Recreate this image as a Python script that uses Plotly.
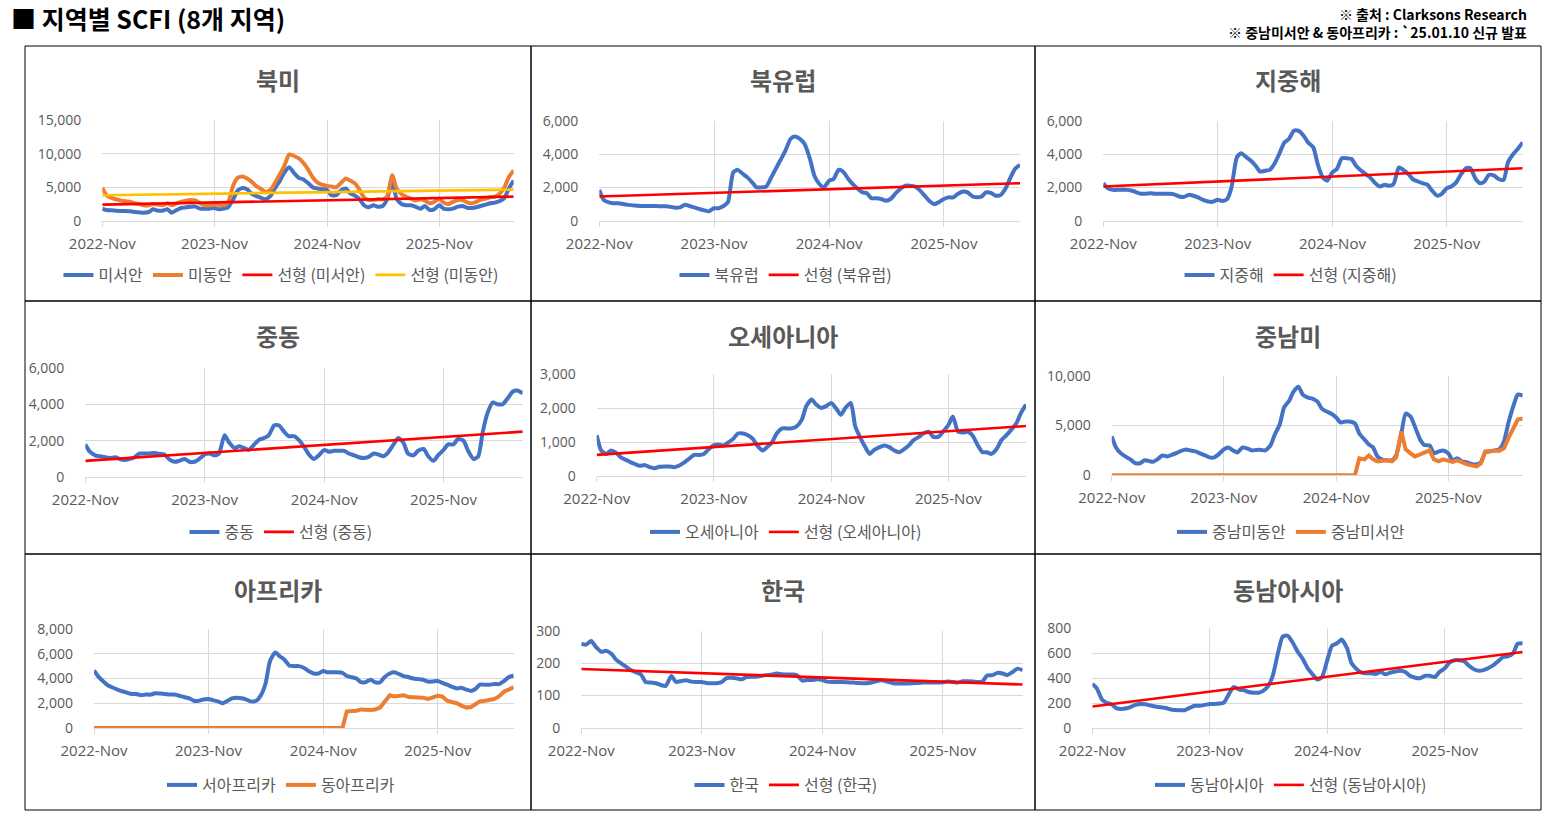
import pandas as pd
import plotly.graph_objects as go

W, H = 1558, 820

# ---------------- data ----------------
dates = pd.date_range("2022-11-01", "2026-07-01", freq="SMS")  # semi-monthly, 89 points
tick_vals = ["2022-11-01", "2023-11-01", "2024-11-01", "2025-11-01"]
tick_text = ["2022-Nov", "2023-Nov", "2024-Nov", "2025-Nov"]

na_west = [1800,1600,1550,1500,1450,1450,1400,1300,1250,1200,
           1300,1700,1500,1500,1700,1200,1600,1900,2000,2100,
           2100,1800,1800,1800,1900,1700,1800,2000,3200,4500,
           4900,4700,4000,3700,3400,3200,3700,4800,6000,7200,
           8000,7200,6400,6200,5600,5000,4800,4700,4600,3800,
           3800,4500,4800,4100,3700,3200,2300,2000,2300,2100,
           2200,3200,5800,3300,2500,2300,2300,2100,1800,2200,
           1600,1700,2300,1800,1700,1800,2100,2200,1900,1900,
           2000,2200,2400,2600,2700,2900,3400,4800,6000]
na_east = [4900,3800,3400,3200,3000,2900,2800,2600,2500,2300,
           2300,2500,2400,2300,2600,2300,2600,2800,3000,3100,
           3000,2600,2300,2300,2400,2400,2300,2700,5300,6400,
           6600,6300,5800,5200,4700,4300,4600,5600,7000,8200,
           9900,9700,9300,8700,7600,6500,5700,5400,5200,5100,
           5000,5600,6300,6000,5500,4600,3500,3100,3100,3200,
           3200,3600,6800,4800,4000,3600,3300,3000,3200,3000,
           2600,2800,3300,2700,2500,2800,3100,3100,2700,2600,
           2800,3100,3300,3500,3600,4000,5000,6500,7500]
north_europe = [1850,1250,1100,1050,1050,1000,950,920,900,880,
                880,880,880,870,860,830,780,800,960,880,
                780,700,620,560,750,750,880,1100,2900,3050,
                2800,2600,2300,2000,2000,2050,2600,3100,3700,4200,
                4900,5050,4900,4600,3700,2700,2200,2000,2400,2500,
                3050,2950,2500,2200,1900,1700,1650,1350,1350,1300,
                1200,1300,1650,1900,2100,2100,2050,1850,1500,1200,
                1000,1100,1300,1400,1400,1600,1750,1700,1450,1400,
                1450,1700,1650,1500,1550,1900,2600,3100,3350]
mediterranean = [2250,1950,1850,1850,1850,1850,1800,1700,1620,1620,
                 1650,1620,1620,1620,1620,1580,1450,1420,1550,1500,
                 1380,1250,1150,1130,1250,1180,1300,2000,3800,4050,
                 3800,3600,3300,2950,3000,3050,3450,4000,4700,4900,
                 5400,5400,5100,4700,4400,3400,2600,2400,2900,3100,
                 3750,3750,3700,3300,3000,2800,2600,2300,2050,2150,
                 2100,2200,3200,3050,2800,2500,2350,2250,2150,1800,
                 1500,1600,1950,2050,2300,2750,3150,3150,2500,2250,
                 2350,2750,2700,2500,2450,3500,4000,4300,4700]
middle_east = [1800,1400,1200,1150,1100,1050,1100,1000,950,1000,
               1100,1300,1300,1300,1330,1280,1250,1000,850,900,
               1000,850,850,1000,1250,1300,1200,1300,2300,1900,
               1600,1700,1600,1500,1800,2050,2150,2300,2850,2850,
               2500,2250,2250,2050,1650,1250,1000,1200,1500,1400,
               1450,1450,1450,1300,1200,1100,1050,1100,1300,1250,
               1150,1350,1800,2150,1900,1300,1200,1450,1550,1150,
               900,1200,1500,1800,1800,2100,2000,1450,1000,1150,
               2500,3500,4100,4000,4000,4300,4700,4750,4600]
oceania = [1200,750,650,750,680,550,470,400,350,300,
           320,260,230,270,280,280,260,300,400,500,
           620,620,650,780,900,930,900,980,1100,1250,
           1250,1200,1100,900,750,850,1000,1250,1400,1400,
           1400,1450,1650,2050,2250,2100,2000,2050,2150,2000,
           1800,2000,2150,1450,1100,850,650,770,850,900,
           850,760,700,780,900,1050,1150,1250,1300,1150,
           1150,1300,1500,1750,1300,1280,1300,1200,900,700,
           700,650,800,1050,1200,1350,1550,1850,2100]
latam_east = [3900,2800,2200,1900,1600,1250,1200,1500,1450,1350,
              1650,2000,1900,2050,2250,2450,2600,2500,2400,2200,
              2000,1800,1800,2100,2600,2800,2500,2300,2800,2700,
              2500,2550,2550,2500,3000,4100,5100,6800,7500,8400,
              8900,8100,7800,7700,7400,6700,6400,6200,5800,5300,
              5400,5400,5200,4200,3600,3100,2800,1900,1550,1500,
              1500,2000,4200,6200,5900,4900,3600,3050,3000,2200,
              2400,2500,2200,1500,1700,1400,1300,1150,1100,1300,
              2300,2400,2500,2600,3400,5200,7000,8100,8000]
latam_west = [0,0,0,0,0,0,0,0,0,0,
              0,0,0,0,0,0,0,0,0,0,
              0,0,0,0,0,0,0,0,0,0,
              0,0,0,0,0,0,0,0,0,0,
              0,0,0,0,0,0,0,0,0,0,
              0,0,0,1700,1600,2000,1600,1400,1500,1500,
              1400,1800,4400,2600,2200,1900,2100,2300,2500,1600,
              1400,1600,1500,1350,1500,1300,1100,1000,900,1200,
              2400,2400,2500,2450,2700,3700,4800,5600,5700]
west_africa = [4650,4150,3750,3450,3250,3100,2950,2850,2750,2750,
               2650,2700,2700,2800,2780,2750,2700,2700,2600,2500,
               2400,2200,2200,2300,2350,2250,2150,2000,2200,2400,
               2450,2400,2300,2150,2200,2600,3600,5400,6100,5800,
               5500,5050,5000,5000,4850,4600,4400,4400,4600,4500,
               4500,4500,4450,4200,4100,4000,3700,3700,3900,3700,
               3700,4100,4400,4500,4350,4200,4100,4000,3950,3900,
               3750,3750,3800,3650,3500,3350,3200,3250,3100,3000,
               3150,3500,3500,3500,3550,3550,3800,4100,4250]
east_africa = [0,0,0,0,0,0,0,0,0,0,
               0,0,0,0,0,0,0,0,0,0,
               0,0,0,0,0,0,0,0,0,0,
               0,0,0,0,0,0,0,0,0,0,
               0,0,0,0,0,0,0,0,0,0,
               0,0,0,1350,1350,1400,1500,1450,1450,1500,
               1650,2100,2650,2550,2600,2650,2500,2500,2500,2450,
               2350,2450,2600,2550,2200,2100,2000,1800,1650,1700,
               1950,2150,2200,2250,2350,2550,2950,3100,3300]
korea = [260,257,268,250,235,238,228,210,200,190,
         178,172,165,142,140,138,132,130,160,142,
         145,147,143,142,142,139,138,138,142,154,
         155,153,150,157,158,158,161,163,165,168,
         166,165,165,163,146,148,148,150,148,143,
         142,142,142,141,140,139,138,138,141,145,
         147,143,139,137,137,137,138,139,140,140,
         140,140,141,143,142,140,144,144,143,142,
         143,162,163,170,168,163,173,183,178]
southeast_asia = [355,320,230,205,190,160,155,160,172,188,
                  195,192,182,175,168,165,152,146,145,145,
                  165,180,180,186,195,195,198,205,280,330,
                  310,305,290,285,285,300,340,420,610,735,
                  740,690,610,560,480,435,390,410,550,660,
                  680,710,640,520,470,445,440,440,435,450,
                  432,445,455,460,450,420,405,400,420,420,
                  410,450,480,525,545,545,535,500,470,460,
                  465,480,505,535,570,575,600,675,680]

# linear trend lines (start value, end value)
trend_na_west = [2400, 3600]
trend_na_east = [3800, 4650]
trend_north_europe = [1450, 2250]
trend_mediterranean = [2050, 3150]
trend_middle_east = [900, 2500]
trend_oceania = [620, 1470]
trend_korea = [182, 134]
trend_southeast_asia = [175, 610]

# ---------------- styling ----------------
BLUE, ORANGE, RED, YELLOW = "#4472C4", "#ED7D31", "#FF0000", "#FFC000"
GRAY_TXT, GRID = "#595959", "#D9D9D9"
NUM_FONT = "Open Sans, Noto Sans CJK KR, sans-serif"
KR_FONT = "Noto Sans CJK KR, Open Sans, sans-serif"

def S(name, y, color, shape="spline"):
    return dict(name=name, y=y, color=color, width=4, trend=False, shape=shape)

def T(name, y, color):
    return dict(name=name, y=y, color=color, width=2.6, trend=True, shape="linear")

panels = [
    dict(title="북미", cell=(25, 46, 531, 301), plot=(102.3, 120.3, 513.7, 220.7), ymax=15000, dtick=5000,
         series=[S("미서안", na_west, BLUE), S("미동안", na_east, ORANGE),
                 T("선형 (미서안)", trend_na_west, RED), T("선형 (미동안)", trend_na_east, YELLOW)]),
    dict(title="북유럽", cell=(531, 46, 1035, 301), plot=(599.3, 120.7, 1020.0, 220.7), ymax=6000, dtick=2000,
         series=[S("북유럽", north_europe, BLUE), T("선형 (북유럽)", trend_north_europe, RED)]),
    dict(title="지중해", cell=(1035, 46, 1541, 301), plot=(1103.3, 120.7, 1522.7, 220.7), ymax=6000, dtick=2000,
         series=[S("지중해", mediterranean, BLUE), T("선형 (지중해)", trend_mediterranean, RED)]),
    dict(title="중동", cell=(25, 301, 531, 554), plot=(85.3, 367.7, 522.7, 477.3), ymax=6000, dtick=2000,
         series=[S("중동", middle_east, BLUE), T("선형 (중동)", trend_middle_east, RED)]),
    dict(title="오세아니아", cell=(531, 301, 1035, 554), plot=(596.7, 374.0, 1026.0, 476.0), ymax=3000, dtick=1000,
         series=[S("오세아니아", oceania, BLUE), T("선형 (오세아니아)", trend_oceania, RED)]),
    dict(title="중남미", cell=(1035, 301, 1541, 554), plot=(1111.7, 375.7, 1522.7, 475.3), ymax=10000, dtick=5000,
         series=[S("중남미동안", latam_east, BLUE), S("중남미서안", latam_west, ORANGE, "linear")]),
    dict(title="아프리카", cell=(25, 554, 531, 810), plot=(94.0, 629.0, 513.7, 728.0), ymax=8000, dtick=2000,
         series=[S("서아프리카", west_africa, BLUE), S("동아프리카", east_africa, ORANGE, "linear")]),
    dict(title="한국", cell=(531, 554, 1035, 810), plot=(581.3, 630.7, 1022.7, 728.0), ymax=300, dtick=100,
         series=[S("한국", korea, BLUE), T("선형 (한국)", trend_korea, RED)]),
    dict(title="동남아시아", cell=(1035, 554, 1541, 810), plot=(1092.3, 628.3, 1522.7, 728.3), ymax=800, dtick=200,
         series=[S("동남아시아", southeast_asia, BLUE), T("선형 (동남아시아)", trend_southeast_asia, RED)]),
]

def fx(p):
    return p / W

def fy(p):
    return 1 - p / H

fig = go.Figure()
layout = dict(template="none", width=W, height=H, margin=dict(l=0, r=0, t=0, b=0, pad=0, autoexpand=False),
              autosize=False, paper_bgcolor="white", plot_bgcolor="white", showlegend=True,
              font=dict(family=KR_FONT, color=GRAY_TXT))
shapes, annotations = [], []

for k, p in enumerate(panels, start=1):
    sfx = "" if k == 1 else str(k)
    x0, y0, x1, y1 = p["plot"]
    cx0, cy0, cx1, cy1 = p["cell"]
    ccx = (cx0 + cx1) / 2
    legname = "legend" + sfx
    for s in p["series"]:
        xs = [dates[0], dates[-1]] if s["trend"] else dates
        line = dict(color=s["color"], width=s["width"], shape=s["shape"])
        if s["shape"] == "spline":
            line["smoothing"] = 0.6
        fig.add_trace(go.Scatter(
            x=xs, y=s["y"], name=s["name"], mode="lines", line=line,
            xaxis="x" + sfx, yaxis="y" + sfx, legend=legname, hoverinfo="skip"))
    layout["xaxis" + sfx] = dict(
        domain=[fx(x0), fx(x1)], anchor="y" + sfx, type="date", automargin=False,
        range=[dates[0], dates[-1]], tickvals=tick_vals, ticktext=tick_text,
        showgrid=True, gridcolor=GRID, gridwidth=1, showline=True, linecolor=GRID, linewidth=1,
        ticks="outside", ticklen=5, tickcolor=GRID, tickwidth=1, ticklabelstandoff=4,
        tickfont=dict(family=NUM_FONT, size=15, color=GRAY_TXT), zeroline=False, fixedrange=True)
    layout["yaxis" + sfx] = dict(
        domain=[fy(y1), fy(y0)], anchor="x" + sfx, range=[0, p["ymax"]], dtick=p["dtick"], tick0=0,
        tickformat=",d", showgrid=True, gridcolor=GRID, gridwidth=1, zeroline=False, showline=False,
        ticks="", ticklabelstandoff=20, automargin=False,
        tickfont=dict(family=NUM_FONT, size=14, color=GRAY_TXT), fixedrange=True)
    row_leg_y = {46: 275, 301: 532, 554: 785}[cy0]
    layout[legname] = dict(
        x=fx(ccx + 3), xanchor="center", y=fy(row_leg_y), yanchor="middle", orientation="h",
        font=dict(family=KR_FONT, size=16, color=GRAY_TXT), bgcolor="rgba(0,0,0,0)",
        itemwidth=30, tracegroupgap=0, traceorder="normal", borderwidth=0)
    row_title_y = {46: 80, 301: 336, 554: 589}[cy0]
    annotations.append(dict(
        text="<b>" + p["title"] + "</b>", x=fx(ccx), y=fy(row_title_y), xref="paper", yref="paper",
        xanchor="center", yanchor="middle", showarrow=False,
        font=dict(family=KR_FONT, size=24, color=GRAY_TXT)))
    shapes.append(dict(type="rect", xref="paper", yref="paper",
                       x0=fx(cx0), x1=fx(cx1), y0=fy(cy1), y1=fy(cy0),
                       line=dict(color="black", width=1), fillcolor="rgba(0,0,0,0)", layer="above"))

annotations.append(dict(
    text="<b>■ 지역별 SCFI (8개 지역)</b>", x=fx(9), y=fy(18), xref="paper", yref="paper",
    xanchor="left", yanchor="middle", showarrow=False,
    font=dict(family=KR_FONT, size=25, color="black")))
annotations.append(dict(
    text="<b>※ 출처 : Clarksons Research<br>※ 중남미서안 &amp; 동아프리카 : `25.01.10 신규 발표</b>",
    x=fx(1529), y=fy(22.5), xref="paper", yref="paper", align="right",
    xanchor="right", yanchor="middle", showarrow=False,
    font=dict(family=KR_FONT, size=14, color="black")))

layout["shapes"] = shapes
layout["annotations"] = annotations
fig.update_layout(**layout)
fig.write_html("out.html", config={"displayModeBar": False})
